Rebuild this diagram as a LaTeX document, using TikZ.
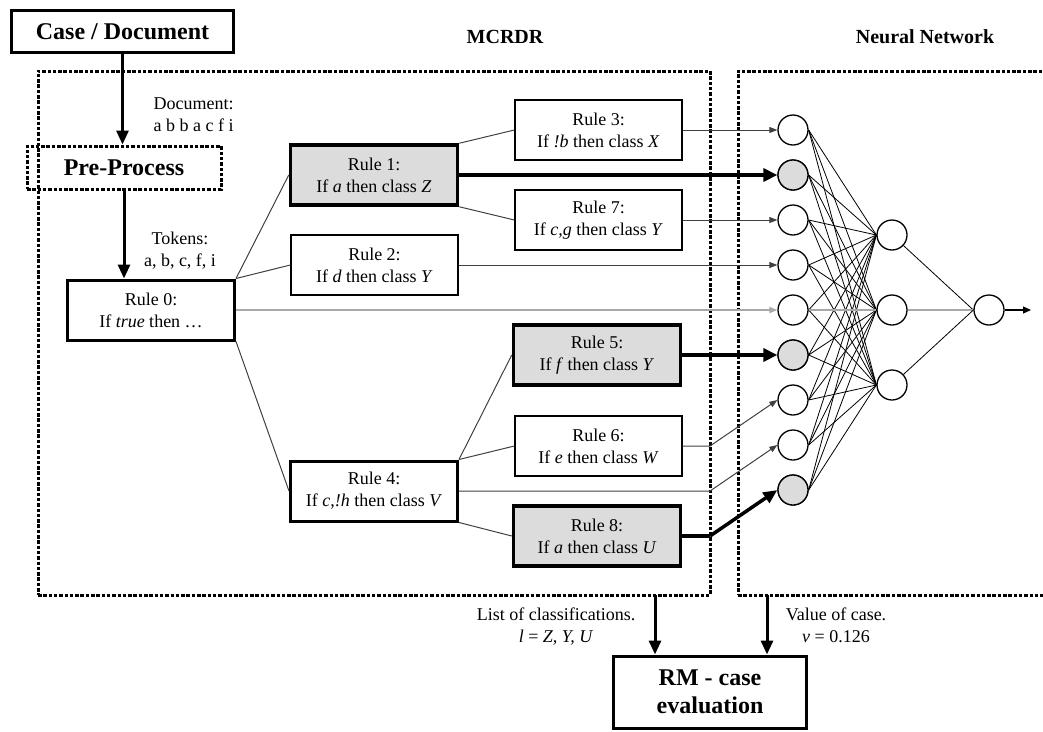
\documentclass[tikz,border=0pt]{standalone}
\usepackage{fontspec}
\setmainfont{Liberation Serif}
\usetikzlibrary{arrows.meta}

\definecolor{firedfill}{HTML}{DCDCDC}
\definecolor{passline}{HTML}{A8A8A8}

\begin{document}
\begin{tikzpicture}[x=1pt,y=-1pt,
  txt/.style={font=\fontsize{18}{22}\selectfont, align=center},
  head/.style={font=\fontsize{24}{28}\selectfont\bfseries, align=center},
  paneltitle/.style={font=\fontsize{20}{24}\selectfont\bfseries},
  rulebox/.style={draw, line width=1.3pt, minimum width=167pt, minimum height=60pt, inner sep=2pt, txt},
  rootrule/.style={rulebox, line width=3pt},
  firedrule/.style={rulebox, line width=3.5pt, fill=firedfill},
  region/.style={draw, line width=3pt, dash pattern=on 3.5pt off 1.8pt},
  unit/.style={circle, draw, line width=1.3pt, minimum size=30pt, inner sep=0pt},
  firedunit/.style={unit, fill=firedfill},
  link/.style={line width=1pt, black!75},
  feed/.style={link, -{Triangle[length=8pt,width=6pt]}},
  strongfeed/.style={line width=4.5pt, -{Triangle[length=14pt,width=13pt]}},
  flow/.style={line width=3pt, -{Triangle[length=14pt,width=12pt]}},
  weight/.style={line width=0.8pt, black},
]
\useasboundingbox (0,0) rectangle (1043,731);

% dashed panels
\node[region, minimum width=672pt, minimum height=524pt, inner sep=0pt] (mcrdr) at (374,333) {};
\node[region, minimum width=322pt, minimum height=524pt, inner sep=0pt] (nn) at (899,333) {};

% panel titles
\node[paneltitle] (tmcrdr) at (505,37) {MCRDR};
\node[paneltitle] (tnn) at (925,37) {Neural Network};

% input stage
\node[draw, line width=3pt, minimum width=222pt, minimum height=42pt, head] (case) at (122.5,31.5) {Case / Document};
\node[region, minimum width=194pt, minimum height=43pt, head] (pre) at (124,167.5) {Pre-Process};
\node[txt, align=left, anchor=west] (doclbl) at (150,114.5) {Document:\\a b b a c f i};
\node[txt] (toklbl) at (180,250.5) {Tokens:\\a, b, c, f, i};

% rule tree
\node[rootrule] (r0) at (151,310) {Rule 0:\\If \textit{true} then \dots};
\node[firedrule] (r1) at (374,175) {Rule 1:\\If \textit{a} then class \textit{Z}};
\node[rulebox] (r2) at (374.5,265) {Rule 2:\\If \textit{d} then class \textit{Y}};
\node[rootrule] (r4) at (374,491) {Rule 4:\\If \textit{c},\textit{!h} then class \textit{V}};
\node[rulebox] (r3) at (598.5,130) {Rule 3:\\If \textit{!b} then class \textit{X}};
\node[rulebox] (r7) at (598.5,220) {Rule 7:\\If \textit{c,g} then class \textit{Y}};
\node[firedrule] (r5) at (597,355) {Rule 5:\\If \textit{f} then class \textit{Y}};
\node[rulebox] (r6) at (598.5,446) {Rule 6:\\If \textit{e} then class \textit{W}};
\node[firedrule] (r8) at (597,536) {Rule 8:\\If \textit{a} then class \textit{U}};

% network units
\foreach \k in {1,...,9} {
  \pgfmathsetmacro{\yy}{130+45*(\k-1)}
  \node[unit] (in\k) at (793,\yy) {};
}
\foreach \k in {2,6,9} {
  \pgfmathsetmacro{\yy}{130+45*(\k-1)}
  \node[firedunit] at (793,\yy) {};
}
\node[unit] (h1) at (892,235) {};
\node[unit] (h2) at (892,310) {};
\node[unit] (h3) at (892,385) {};
\node[unit] (out) at (989,310) {};
\coordinate (outend) at (1031,310);

% result
\node[draw, line width=3pt, minimum width=193pt, minimum height=72pt, head] (rm) at (710,692) {RM - case\\evaluation};
\node[txt] (clslbl) at (556,626.5) {List of classifications.\\\textit{l} = \textit{Z, Y, U}};
\node[txt] (vallbl) at (836,625) {Value of case.\\\textit{v} = 0.126};
\coordinate (clsout) at (655,595);
\coordinate (valout) at (767,595);

% bends where lower rules leave the panel
\coordinate (b6) at (710,446);
\coordinate (b4) at (710,491);
\coordinate (b8) at (710,536);

% flow through pre-processing
\draw[flow] (case.south) -- (case.south |- pre.north);
\draw[flow] (pre.south) -- (pre.south |- r0.north);

% rule tree edges
\draw[link] (r0.north east) -- (r1.west);
\draw[link] (r0.north east) -- (r2.west);
\draw[link] (r0.south east) -- (r4.west);
\draw[link] (r1.north east) -- (r3.west);
\draw[link] (r1.south east) -- (r7.west);
\draw[link] (r4.north east) -- (r5.west);
\draw[link] (r4.north east) -- (r6.west);
\draw[link] (r4.south east) -- (r8.west);

% rule conclusions feeding the inputs
\draw[feed] (r3.east) -- (in1.west);
\draw[strongfeed] (r1.east) -- (in2.west);
\draw[feed] (r7.east) -- (in3.west);
\draw[feed] (r2.east) -- (in4.west);
\draw[line width=2.5pt, passline, -{Triangle[length=8pt,width=6pt]}] (r0.east) -- (in5.west);
\draw[strongfeed] (r5.east) -- (in6.west);
\draw[feed] (r6.east) -- (b6) -- (in7.west);
\draw[feed] (r4.east) -- (b4) -- (in8.west);
\draw[line width=4.5pt, line join=round] (r8.east) -- (b8);
\draw[line width=3.5pt, -{Triangle[length=14pt,width=12pt]}] (b8) -- (in9.west);

% network weights
\foreach \k in {1,...,9} {
  \foreach \j in {1,2,3} {
    \draw[weight] (in\k.east) -- (h\j.west);
  }
}
\draw[line width=2pt, passline] (in5.east) -- (h2.west);
\draw[weight] (h1) -- (out.west);
\draw[line width=2pt, passline] (h2.east) -- (out.west);
\draw[weight] (h3) -- (out.west);
\draw[line width=1.2pt, -{Triangle[length=8pt,width=7pt]}] (out.east) -- (outend);

% outputs to the evaluation
\draw[flow] (clsout) -- (clsout |- rm.north);
\draw[flow] (valout) -- (valout |- rm.north);
\end{tikzpicture}
\end{document}
